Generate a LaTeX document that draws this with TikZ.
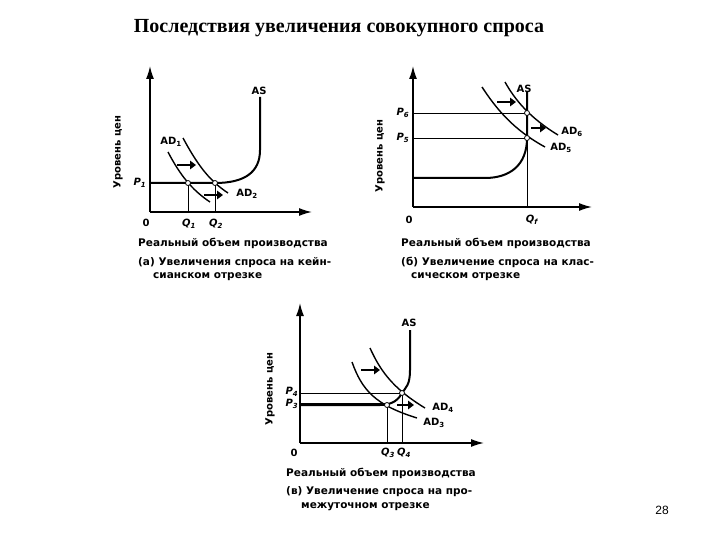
\documentclass[tikz,border=0pt]{standalone}
\usepackage{fontspec}
\setmainfont{Liberation Serif}
\newfontfamily\lab{DejaVu Sans}
\usetikzlibrary{arrows.meta}
\begin{document}
\begin{tikzpicture}[x=1pt,y=-1pt,
 axisline/.style={line width=1.5pt,-{Latex[length=13pt,width=8pt]}},
 ascurve/.style={line width=2pt},
 guide/.style={line width=0.7pt},
 dem/.style={line width=1.4pt},
 movearr/.style={line width=2.4pt,-{Triangle[length=6pt,width=8.5pt]}},
 eqpt/.style={circle,draw,fill=white,inner sep=0pt,minimum size=5pt,line width=0.8pt},
 lbl/.style={font=\lab\bfseries\fontsize{10}{12}\selectfont,inner sep=0pt},
 axlbl/.style={font=\lab\bfseries\fontsize{10}{12}\selectfont,inner sep=0pt,rotate=90},
 capt/.style={font=\lab\bfseries\fontsize{10.5}{13}\selectfont,inner sep=0pt,anchor=west},
]
\useasboundingbox (0,0) rectangle (720,540);
\fill[white] (0,0) rectangle (720,540);

\node[font=\bfseries\fontsize{20}{24}\selectfont] (title) at (339,28) {Последствия увеличения совокупного спроса};
\node[font=\fontspec{Liberation Sans}\fontsize{12}{14}\selectfont] (pnum) at (662,510) {28};

% ---------- panel (a) ----------
\coordinate (aO) at (150,212);
\coordinate (aYt) at (150,66);
\coordinate (aXt) at (312,212);
\coordinate (aP1) at (150,183);
\coordinate (aQ1) at (188,212);
\coordinate (aQ2) at (215,212);
\coordinate (aE1) at (188,183);
\coordinate (aE2) at (215,183);
\coordinate (aAStop) at (260,97);
\draw[axisline] (aO) -- (aYt);
\draw[axisline] (aO) -- (aXt);
\draw[guide] (aQ1) -- (aE1);
\draw[guide] (aQ2) -- (aE2);
\draw[ascurve] (aP1) -- (aE2) .. controls (245,183) and (260,172) .. (260,150) -- (aAStop);
\draw[dem] (168,152) .. controls (180,175) and (192,190) .. (210,202);
\draw[dem] (183,138) .. controls (196,162) and (208,180) .. (228,193);
\coordinate (aM1s) at (177,165); \coordinate (aM1e) at (196,165);
\coordinate (aM2s) at (204,195); \coordinate (aM2e) at (223,195);
\draw[movearr] (aM1s) -- (aM1e);
\draw[movearr] (aM2s) -- (aM2e);
\node[eqpt] (aE1c) at (aE1) {};
\node[eqpt] (aE2c) at (aE2) {};
\node[lbl] (aAS) at (259,91) {AS};
\node[lbl] (aAD1) at (171,142) {AD\textsubscript{1}};
\node[lbl] (aAD2) at (247,194) {AD\textsubscript{2}};
\node[lbl] (aP1l) at (140,183) {\itshape P\textsubscript{1}};
\node[lbl] (aOl) at (146,223) {0};
\node[lbl] (aQ1l) at (189,224) {\itshape Q\textsubscript{1}};
\node[lbl] (aQ2l) at (216,224) {\itshape Q\textsubscript{2}};
\node[axlbl] (aYl) at (118,152) {Уровень цен};
\node[capt] (aXl) at (138,243) {Реальный объем производства};
\node[capt] (aC1) at (138,263) {(а) Увеличения спроса на кейн-};
\node[capt] (aC2) at (153,277) {сианском отрезке};

% ---------- panel (b) ----------
\coordinate (bO) at (413,207);
\coordinate (bYt) at (413,66);
\coordinate (bXt) at (592,207);
\coordinate (bAS0) at (413,178);
\coordinate (bP6) at (413,113);
\coordinate (bP5) at (413,138);
\coordinate (bQf) at (527,207);
\coordinate (bE6) at (527,113);
\coordinate (bE5) at (527,138);
\coordinate (bAStop) at (527,92);
\draw[axisline] (bO) -- (bYt);
\draw[axisline] (bO) -- (bXt);
\draw[guide] (bP6) -- (bE6);
\draw[guide] (bP5) -- (bE5);
\draw[guide] (bQf) -- (bE5);
\draw[ascurve] (bAS0) -- (485,178) .. controls (510,178) and (527,165) .. (bE5) -- (bAStop);
\draw[dem] (482,87) .. controls (497,110) and (514,130) .. (545,147);
\draw[dem] (505,82) .. controls (515,100) and (530,118) .. (558,135);
\coordinate (bM1s) at (497,102); \coordinate (bM1e) at (516,102);
\coordinate (bM2s) at (531,128); \coordinate (bM2e) at (546,128);
\draw[movearr] (bM1s) -- (bM1e);
\draw[movearr] (bM2s) -- (bM2e);
\node[eqpt] (bE6c) at (bE6) {};
\node[eqpt] (bE5c) at (bE5) {};
\node[lbl] (bAS) at (524,89) {AS};
\node[lbl] (bAD6) at (572,132) {AD\textsubscript{6}};
\node[lbl] (bAD5) at (561,148) {AD\textsubscript{5}};
\node[lbl] (bP6l) at (403,113) {\itshape P\textsubscript{6}};
\node[lbl] (bP5l) at (403,138) {\itshape P\textsubscript{5}};
\node[lbl] (bOl) at (409,220) {0};
\node[lbl] (bQfl) at (532,220) {\itshape Q\textsubscript{f}};
\node[axlbl] (bYl) at (380,156) {Уровень цен};
\node[capt] (bXl) at (401,243) {Реальный объем производства};
\node[capt] (bC1) at (401,262) {(б) Увеличение спроса на клас-};
\node[capt] (bC2) at (411,277) {сическом отрезке};

% ---------- panel (v) ----------
\coordinate (cO) at (300,443);
\coordinate (cYt) at (300,303);
\coordinate (cXt) at (484,443);
\coordinate (cAS0) at (300,405);
\coordinate (cP4) at (300,393);
\coordinate (cP3) at (300,403);
\coordinate (cQ3) at (387,443);
\coordinate (cQ4) at (402,443);
\coordinate (cE3) at (387,405);
\coordinate (cE4) at (402,393);
\coordinate (cE3g) at (387,403);
\coordinate (cAStop) at (410,330);
\draw[axisline] (cO) -- (cYt);
\draw[axisline] (cO) -- (cXt);
\draw[guide] (cP4) -- (cE4);
\draw[guide] (cP3) -- (cE3g);
\draw[guide] (cQ3) -- (cE3);
\draw[guide] (cQ4) -- (cE4);
\draw[ascurve] (cAS0) -- (380,405) .. controls (393,405) and (399,399) .. (cE4) .. controls (406,387) and (410,385) .. (410,370) -- (cAStop);
\draw[dem] (352,362) .. controls (362,390) and (375,405) .. (417,418);
\draw[dem] (370,348) .. controls (380,370) and (392,388) .. (425,408);
\coordinate (cM1s) at (361,370); \coordinate (cM1e) at (380,370);
\coordinate (cM2s) at (397,405); \coordinate (cM2e) at (414,405);
\draw[movearr] (cM1s) -- (cM1e);
\draw[movearr] (cM2s) -- (cM2e);
\node[eqpt] (cE3c) at (cE3) {};
\node[eqpt] (cE4c) at (cE4) {};
\node[lbl] (cAS) at (409,323) {AS};
\node[lbl] (cAD4) at (443,408) {AD\textsubscript{4}};
\node[lbl] (cAD3) at (434,423) {AD\textsubscript{3}};
\node[lbl] (cP4l) at (292,392) {\itshape P\textsubscript{4}};
\node[lbl] (cP3l) at (292,404) {\itshape P\textsubscript{3}};
\node[lbl] (cOl) at (294,453) {0};
\node[lbl] (cQ3l) at (388,453) {\itshape Q\textsubscript{3}};
\node[lbl] (cQ4l) at (404,453) {\itshape Q\textsubscript{4}};
\node[axlbl] (cYl) at (270,389) {Уровень цен};
\node[capt] (cXl) at (286,473) {Реальный объем производства};
\node[capt] (cC1) at (286,492) {(в) Увеличение спроса на про-};
\node[capt] (cC2) at (301,507) {межуточном отрезке};
\end{tikzpicture}
\end{document}
